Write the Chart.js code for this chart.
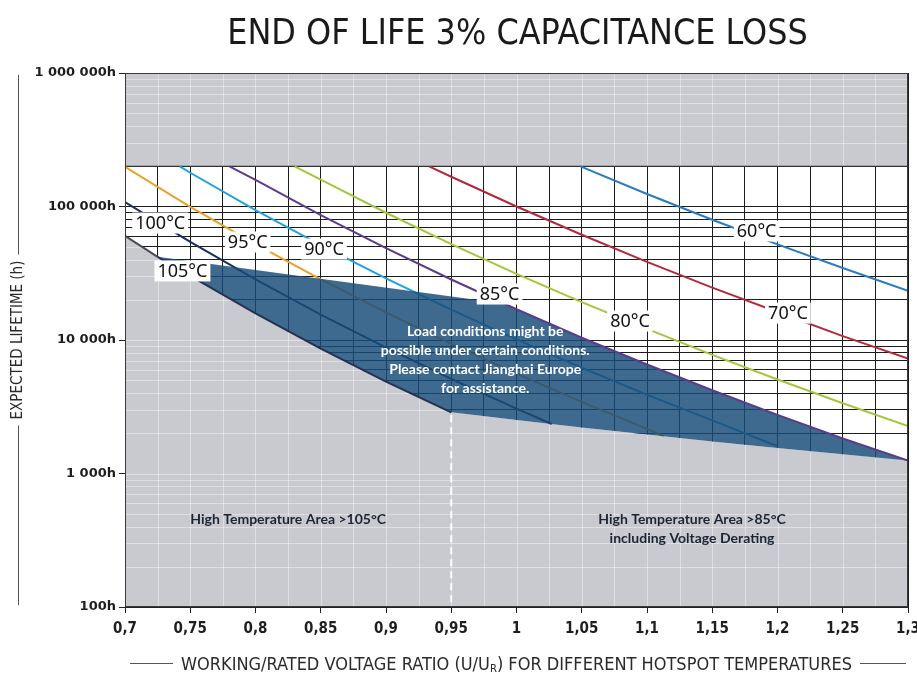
<!DOCTYPE html>
<html>
<head>
<meta charset="utf-8">
<script src="https://cdn.jsdelivr.net/npm/chart.js@4.4.1/dist/chart.umd.min.js"></script>
<style>
  html, body { margin: 0; padding: 0; background: #fff; }
</style>
</head>
<body>
<canvas id="lifeChart" width="917" height="673"></canvas>
<script>
// hotspot curves: voltage ratio U/UR -> hours
const ratio60 = [1.049, 1.1, 1.15, 1.2, 1.25, 1.3];
const life60  = [200000, 124000, 79600, 52000, 34600, 23400];
const ratio70 = [0.933, 0.95, 1.0, 1.05, 1.1, 1.15, 1.2, 1.25, 1.3];
const life70  = [200000, 167000, 100000, 61400, 38500, 24700, 16200, 10700, 7250];
const ratio80 = [0.83, 0.85, 0.9, 0.95, 1.0, 1.05, 1.1, 1.15, 1.2, 1.25, 1.3];
const life80  = [200000, 159000, 89800, 52300, 31300, 19200, 12100, 7740, 5060, 3360, 2270];
const ratio85 = [0.78, 0.8, 0.85, 0.9, 0.95, 1.0, 1.05, 1.1, 1.15, 1.2, 1.25, 1.3];
const life85  = [200000, 158000, 86300, 48800, 28400, 17000, 10400, 6550, 4200, 2750, 1830, 1250];
const ratio90 = [0.742, 0.75, 0.8, 0.85, 0.9, 0.95, 1.0, 1.05, 1.1, 1.15, 1.2];
const life90  = [200000, 179000, 94100, 51300, 29000, 16900, 10100, 6200, 3890, 2500, 1600];
const ratio95 = [0.7, 0.75, 0.8, 0.85, 0.9, 0.95, 1.0, 1.05, 1.1, 1.113];
const life95  = [198000, 99500, 52200, 28400, 16100, 9350, 5600, 3440, 2160, 1900];
const ratio100 = [0.7, 0.75, 0.8, 0.85, 0.9, 0.95, 1.0, 1.027];
const life100  = [108000, 54300, 28500, 15500, 8780, 5110, 3060, 2350];
const ratio105 = [0.7, 0.725, 0.75, 0.8, 0.85, 0.9, 0.95];
const life105  = [60200, 42000, 30200, 15800, 8630, 4880, 2870];

// floor of the derating zone right of 0.95
const floorRatio = [0.95, 1.0, 1.05, 1.1, 1.15, 1.2, 1.25, 1.3];
const floorLife  = [2870, 2520, 2215, 1956, 1739, 1553, 1393, 1255];
// upper edge of the derating zone until it meets the 85°C curve
const capRatio = [0.725, 0.99];
const capLife  = [42000, 18800];
// top of the rated (white) area
const ratedTop = 200000;

const tempNames = ['60°C', '70°C', '80°C', '85°C', '90°C', '95°C', '100°C', '105°C'];
const labelRatio = [1.184, 1.208, 1.087, 0.987, 0.8525, 0.794, 0.727, 0.744];
const labelLife  = [65500, 15900, 13870, 22100, 48000, 54200, 75200, 32900];

const ratioTickValues = [0.7, 0.75, 0.8, 0.85, 0.9, 0.95, 1, 1.05, 1.1, 1.15, 1.2, 1.25, 1.3];
const ratioTickLabels = ['0,7', '0,75', '0,8', '0,85', '0,9', '0,95', '1', '1,05', '1,1', '1,15', '1,2', '1,25', '1,3'];
const lifeTickValues = [100, 1000, 10000, 100000, 1000000];
const lifeTickLabels = ['100h', '1 000h', '10 000h', '100 000h', '1 000 000h'];

const noteLines = ['Load conditions might be', 'possible under certain conditions.', 'Please contact Jianghai Europe', 'for assistance.'];
const noteAt = [0.976, 11500];
const zone105Text = ['High Temperature Area >105°C'];
const zone105At = [0.825, 449];
const zone85Text = ['High Temperature Area >85°C', 'including Voltage Derating'];
const zone85At = [1.1345, 449];

const NARROW = "'Liberation Sans Narrow', 'DejaVu Sans Condensed', 'Liberation Sans', sans-serif";

const pts = (xs, ys) => xs.map((x, i) => ({x: x, y: ys[i]}));

// derating polygon: cap edge, 85°C curve, floor back, 105°C curve back
const blueShape = pts(capRatio, capLife)
  .concat(pts(ratio85, life85).filter(p => p.x > capRatio[1]))
  .concat(pts(floorRatio, floorLife).reverse().slice(1))
  .concat(pts(ratio105, life105).filter(p => p.x >= capRatio[0]).reverse().slice(1));

const greyFloor = pts(ratio105, life105).concat(pts(floorRatio, floorLife).slice(1));

function curve(label, xs, ys, color, order) {
  return {
    label: label, data: pts(xs, ys), borderColor: color, borderWidth: 2,
    pointRadius: 0, fill: false, order: order, tension: 0
  };
}

const greyGrid = {
  id: 'greyGrid',
  afterDatasetDraw(chart, args) {
    const ds = chart.data.datasets[args.index];
    if (!ds.greyZone) return;
    const {ctx, chartArea: a, scales: {x, y}} = chart;
    const p = args.meta.data;
    ctx.save();
    ctx.beginPath();
    if (ds.greyZone === 'top') {
      ctx.rect(a.left, a.top, a.width, p[0].y - a.top - 1);
    } else {
      ctx.moveTo(p[0].x, a.bottom);
      p.forEach(q => ctx.lineTo(q.x, q.y));
      ctx.lineTo(p[p.length - 1].x, a.bottom);
      ctx.closePath();
    }
    ctx.clip();
    ctx.strokeStyle = 'rgba(255,255,255,0.4)';
    ctx.lineWidth = 1;
    ctx.beginPath();
    x.ticks.forEach(t => {
      const v = Math.round(x.getPixelForValue(t.value)) + 0.5;
      ctx.moveTo(v, a.top); ctx.lineTo(v, a.bottom);
    });
    y.ticks.forEach(t => {
      const v = Math.round(y.getPixelForValue(t.value)) + 0.5;
      ctx.moveTo(a.left, v); ctx.lineTo(a.right, v);
    });
    ctx.stroke();
    ctx.restore();
  },
  afterDatasetsDraw(chart) {
    const {ctx, chartArea: a, scales: {x, y}} = chart;
    ctx.save();
    // dashed divider at 0.95
    ctx.strokeStyle = '#ffffff';
    ctx.lineWidth = 2;
    ctx.setLineDash([7, 5]);
    ctx.beginPath();
    ctx.moveTo(x.getPixelForValue(floorRatio[0]), y.getPixelForValue(floorLife[0]) + 3);
    ctx.lineTo(x.getPixelForValue(floorRatio[0]), a.bottom);
    ctx.stroke();
    ctx.setLineDash([]);

    // frame
    ctx.strokeStyle = '#3a3a3a';
    ctx.lineWidth = 1;
    ctx.strokeRect(a.left + 0.5, a.top + 0.5, a.width - 1, a.height - 1);

    // text in the zones
    ctx.textAlign = 'center';
    ctx.textBaseline = 'middle';
    ctx.font = "bold 14px Lato, 'Open Sans', sans-serif";
    ctx.fillStyle = '#ffffff';
    noteLines.forEach((t, i) => {
      ctx.fillText(t, x.getPixelForValue(noteAt[0]), y.getPixelForValue(noteAt[1]) + i * 18.7);
    });
    ctx.fillStyle = '#1b2533';
    zone105Text.forEach((t, i) => {
      ctx.fillText(t, x.getPixelForValue(zone105At[0]), y.getPixelForValue(zone105At[1]) + i * 19);
    });
    zone85Text.forEach((t, i) => {
      ctx.fillText(t, x.getPixelForValue(zone85At[0]), y.getPixelForValue(zone85At[1]) + i * 19);
    });

    // temperature tags on white boxes
    ctx.font = "18px 'Noto Sans', 'Open Sans', sans-serif";
    tempNames.forEach((t, i) => {
      const cx = x.getPixelForValue(labelRatio[i]);
      const cy = y.getPixelForValue(labelLife[i]);
      const w = ctx.measureText(t).width + 6;
      ctx.fillStyle = '#ffffff';
      ctx.fillRect(cx - w / 2, cy - 10.5, w, 21);
      ctx.fillStyle = '#111111';
      ctx.fillText(t, cx, cy + 1);
    });
    ctx.restore();
  },
  afterDraw(chart) {
    const {ctx, chartArea: a, scales: {y}} = chart;
    const mid = (a.left + a.right) / 2;
    ctx.save();
    ctx.textAlign = 'center';
    ctx.textBaseline = 'alphabetic';
    ctx.fillStyle = '#1a1a1a';
    ctx.font = '35.5px ' + NARROW;
    ctx.fillText('END OF LIFE 3% CAPACITANCE LOSS', mid + 1, 44);

    // y title side rules
    ctx.font = '15px ' + NARROW;
    const tw = ctx.measureText('EXPECTED LIFETIME (h)').width;
    const ty = (a.top + a.bottom) / 2;
    const tx = Math.round(y.left + 4 + 9) + 0.5;
    ctx.strokeStyle = '#555';
    ctx.lineWidth = 1;
    ctx.beginPath();
    ctx.moveTo(tx, a.top + 2); ctx.lineTo(tx, ty - tw / 2 - 6);
    ctx.moveTo(tx, ty + tw / 2 + 6); ctx.lineTo(tx, a.bottom - 2);
    ctx.stroke();

    // x title with subscript R
    const fs = 18;
    const partA = 'WORKING/RATED VOLTAGE RATIO (U/U';
    const partB = 'R';
    const partC = ') FOR DIFFERENT HOTSPOT TEMPERATURES';
    ctx.font = fs + 'px ' + NARROW;
    const wA = ctx.measureText(partA).width;
    const wC = ctx.measureText(partC).width;
    ctx.font = (fs * 0.62) + 'px ' + NARROW;
    const wB = ctx.measureText(partB).width;
    const total = wA + wB + wC;
    const bx = 670;
    let sx = mid - total / 2;
    ctx.textAlign = 'left';
    ctx.fillStyle = '#2a2a2a';
    ctx.font = fs + 'px ' + NARROW;
    ctx.fillText(partA, sx, bx);
    ctx.font = (fs * 0.62) + 'px ' + NARROW;
    ctx.fillText(partB, sx + wA, bx + 2);
    ctx.font = fs + 'px ' + NARROW;
    ctx.fillText(partC, sx + wA + wB, bx);
    ctx.beginPath();
    ctx.moveTo(a.left + 5, bx - 6.5); ctx.lineTo(sx - 8, bx - 6.5);
    ctx.moveTo(sx + total + 8, bx - 6.5); ctx.lineTo(a.right - 2, bx - 6.5);
    ctx.stroke();
    ctx.restore();
  }
};

new Chart(document.getElementById('lifeChart'), {
  type: 'line',
  data: {
    datasets: [
      {
        label: 'grey top', data: pts([0.7, 1.3], [ratedTop, ratedTop]), greyZone: 'top',
        fill: 'end', backgroundColor: '#c9cacf', borderColor: '#333', borderWidth: 1.2,
        pointRadius: 0, order: 9
      },
      {
        label: 'grey floor', data: greyFloor, greyZone: 'bottom',
        fill: 'start', backgroundColor: '#c9cacf', borderWidth: 0,
        pointRadius: 0, order: 9
      },
      curve('60°C', ratio60, life60, '#2a7cc0', 6),
      curve('70°C', ratio70, life70, '#b42a3c', 6),
      curve('80°C', ratio80, life80, '#a2c83a', 6),
      curve('90°C', ratio90, life90, '#1ea2de', 6),
      curve('95°C', ratio95, life95, '#e9a22a', 6),
      curve('100°C', ratio100, life100, '#1d2e5c', 6),
      {
        label: 'derating zone', data: blueShape, fill: 'shape',
        backgroundColor: 'rgba(24, 76, 122, 0.83)', borderWidth: 0,
        pointRadius: 0, order: 4, tension: 0
      },
      Object.assign(curve('105°C', ratio105, life105, '#25314f', 3), {
        segment: { borderColor: c => c.p1.parsed.x <= 0.726 ? '#4a4b52' : '#25314f' }
      }),
      curve('85°C', ratio85, life85, '#5b3c8c', 2)
    ]
  },
  options: {
    responsive: false,
    animation: false,
    layout: { padding: { left: 5, right: 9, top: 73, bottom: 0 } },
    plugins: {
      legend: { display: false },
      tooltip: { enabled: false },
      filler: { drawTime: 'beforeDatasetDraw' }
    },
    scales: {
      x: {
        type: 'linear', min: 0.7, max: 1.3,
        afterFit: s => { s.height = 66; s.paddingLeft = 0; s.paddingRight = 0; },
        ticks: {
          stepSize: 0.025, autoSkip: false, maxRotation: 0, padding: 7,
          color: '#1e1e1e', font: { family: NARROW, size: 15, weight: 'bold' },
          callback: v => {
            const i = ratioTickValues.findIndex(t => Math.abs(t - v) < 1e-6);
            return i < 0 ? '' : ratioTickLabels[i];
          }
        },
        grid: {
          color: '#1c1c1c', lineWidth: 1, tickLength: 6,
          tickColor: c => (c.tick && c.tick.label) ? '#222' : 'rgba(0,0,0,0)'
        },
        border: { color: '#222', width: 1 }
      },
      y: {
        type: 'logarithmic', min: 100, max: 1000000,
        afterBuildTicks: s => {
          const list = [];
          for (let d = 100; d < 1000000; d *= 10) {
            for (let k = 1; k < 10; k++) list.push({ value: k * d });
          }
          list.push({ value: 1000000 });
          s.ticks = list;
        },
        afterFit: s => { s.width = 120; s.paddingTop = 0; s.paddingBottom = 0; },
        ticks: {
          autoSkip: false, padding: 3, color: '#1e1e1e',
          font: { family: "'DejaVu Sans', sans-serif", size: 13, weight: 'bold' },
          callback: v => {
            const i = lifeTickValues.indexOf(Math.round(v));
            return i < 0 ? '' : lifeTickLabels[i];
          }
        },
        grid: {
          color: '#1c1c1c', lineWidth: 1, tickLength: 6,
          tickColor: c => (c.tick && c.tick.label) ? '#222' : 'rgba(0,0,0,0)'
        },
        border: { color: '#222', width: 1 },
        title: {
          display: true, text: 'EXPECTED LIFETIME (h)', color: '#2a2a2a',
          font: { family: NARROW, size: 15 }, padding: { top: 4, bottom: 0 }
        }
      }
    }
  },
  plugins: [greyGrid]
});
</script>
</body>
</html>
